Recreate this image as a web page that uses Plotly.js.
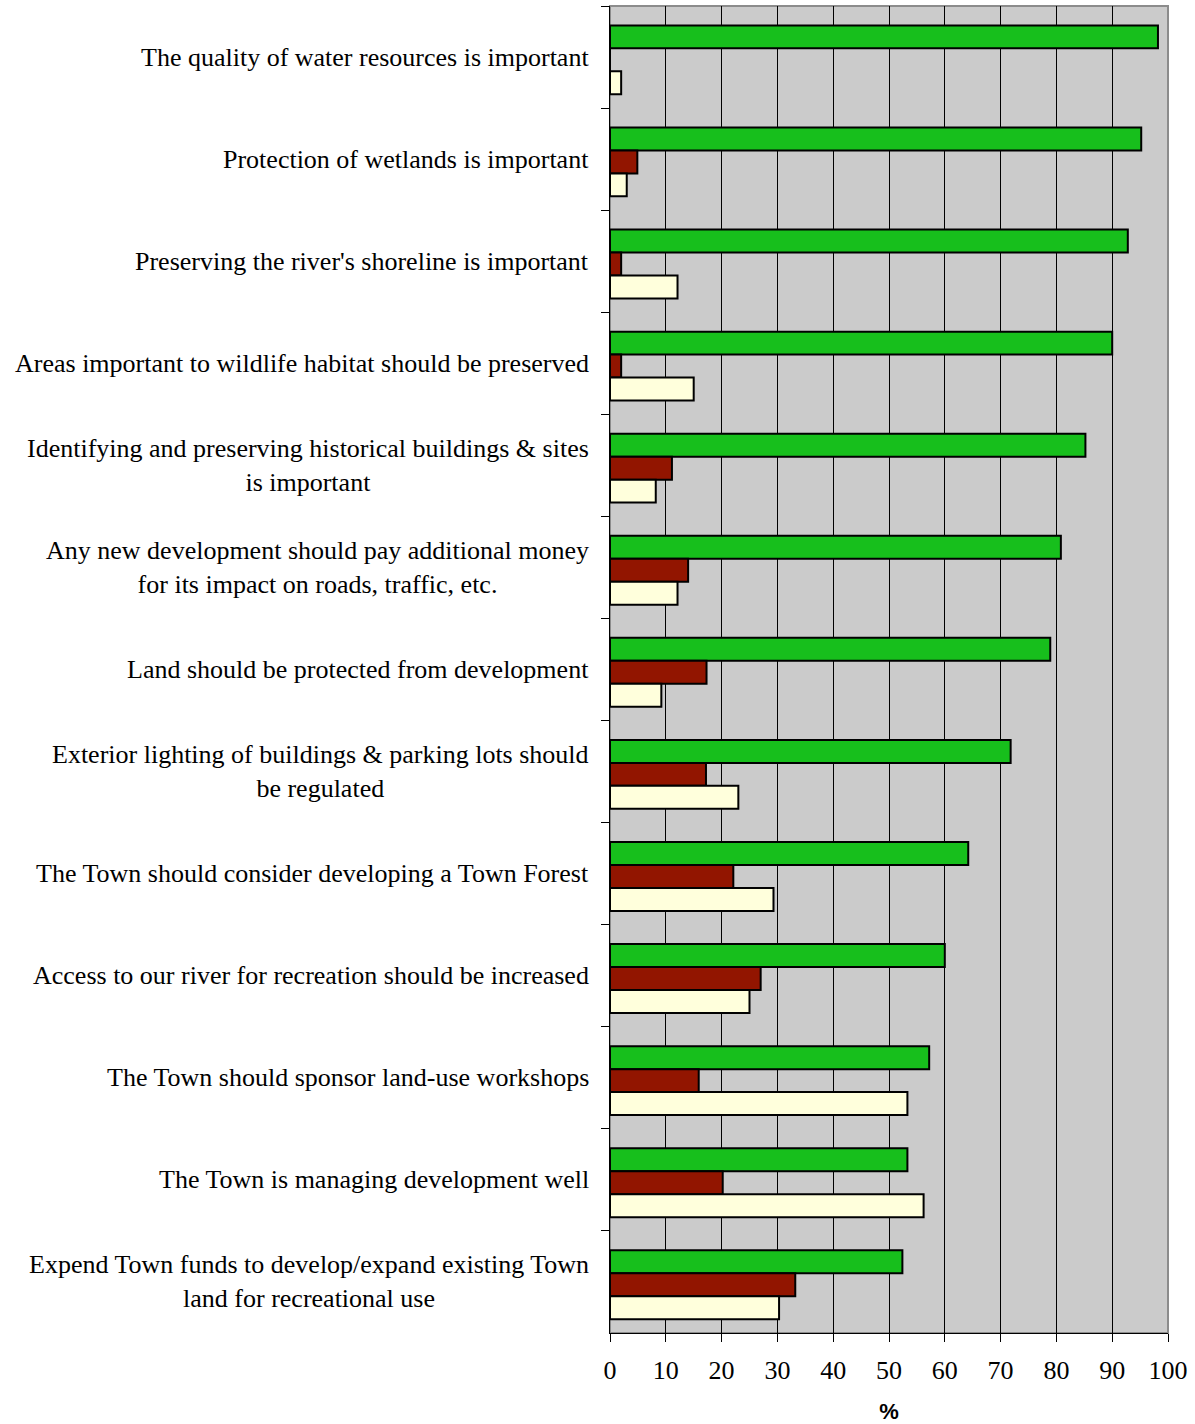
<!DOCTYPE html>
<html>
<head>
<meta charset="utf-8">
<script src="https://cdn.plot.ly/plotly-3.0.1.min.js"></script>
<style>html,body{margin:0;padding:0;background:#fff;}#chart{width:1195px;height:1424px;}</style>
</head>
<body>
<div id="chart"></div>
<script>
var categories = [
  "The quality of water resources is important",
  "Protection of wetlands is important",
  "Preserving the river's shoreline is important",
  "Areas important to wildlife habitat should be preserved",
  "Identifying and preserving historical buildings & sites<br>is important",
  "Any new development should pay additional money<br>for its impact on roads, traffic, etc.",
  "Land should be protected from development",
  "Exterior lighting of buildings & parking lots should<br>be regulated",
  "The Town should consider developing a Town Forest",
  "Access to our river for recreation should be increased",
  "The Town should sponsor land-use workshops",
  "The Town is managing development well",
  "Expend Town funds to develop/expand existing Town<br>land for recreational use"
];
var greenValues  = [98.2, 95.2, 92.8, 90.0, 85.2, 80.8, 78.9, 71.8, 64.2, 60.0, 57.2, 53.3, 52.4];
var redValues    = [0,    4.9,  2.0,  2.0,  11.1, 14.0, 17.3, 17.2, 22.1, 27.0, 15.9, 20.2, 33.2];
var yellowValues = [2.0,  3.0,  12.1, 15.0, 8.2,  12.1, 9.2,  23.0, 29.3, 25.0, 53.3, 56.2, 30.3];
var xTickValues = [0,10,20,30,40,50,60,70,80,90,100];
var xTitle = "%";

var serif = "Liberation Serif, Times New Roman, serif";
var barLine = {color: "#000000", width: 2};
var barWidth = 0.225;
var traces = [
  {type: "bar", orientation: "h", y: categories, x: greenValues,
   width: barWidth, offset: -0.31,
   marker: {color: "#17BF1C", line: barLine}, hoverinfo: "x"},
  {type: "bar", orientation: "h", y: categories, x: redValues,
   width: barWidth, offset: -0.085,
   marker: {color: "#921500", line: barLine}, hoverinfo: "x"},
  {type: "bar", orientation: "h", y: categories, x: yellowValues,
   width: barWidth, offset: 0.14,
   marker: {color: "#FFFFDC", line: barLine}, hoverinfo: "x"}
];

var annotations = categories.map(function (c) {
  return {
    xref: "paper", yref: "y", x: 0, y: c, text: c,
    showarrow: false, xanchor: "right", yanchor: "middle", align: "center",
    xshift: -19,
    font: {family: serif, size: 26, color: "#000"}
  };
});

var layout = {
  width: 1195, height: 1424,
  margin: {l: 610, r: 27, t: 6, b: 91, pad: 0},
  paper_bgcolor: "#ffffff",
  plot_bgcolor: "#CBCBCB",
  showlegend: false,
  barmode: "group",
  font: {family: serif, size: 26, color: "#000"},
  xaxis: {
    range: [0, 100],
    tickvals: xTickValues,
    ticktext: xTickValues.map(String),
    showgrid: true, gridcolor: "#000000", gridwidth: 1,
    zeroline: false,
    showline: true, linecolor: "#000000", linewidth: 1,
    ticks: "outside", ticklen: 8, tickcolor: "#000000", tickwidth: 1,
    ticklabelstandoff: 6,
    tickfont: {family: serif, size: 26, color: "#000"},
    title: {text: xTitle, standoff: 20,
            font: {family: "Liberation Sans, Arial, sans-serif", size: 22, color: "#000", weight: "bold"}},
    fixedrange: true
  },
  yaxis: {
    type: "category",
    autorange: "reversed",
    showgrid: false, zeroline: false,
    showline: true, linecolor: "#000000", linewidth: 1,
    ticks: "outside", ticklen: 8, tickcolor: "#000000", tickwidth: 1,
    tickson: "boundaries",
    showticklabels: false,
    fixedrange: true
  },
  shapes: [
    {type: "rect", xref: "paper", yref: "paper", x0: 0, x1: 1, y0: 0, y1: 1,
     line: {color: "#8C8C8C", width: 2}, fillcolor: "rgba(0,0,0,0)", layer: "below"}
  ],
  annotations: annotations
};

Plotly.newPlot("chart", traces, layout, {displayModeBar: false, staticPlot: true});
</script>
</body>
</html>
